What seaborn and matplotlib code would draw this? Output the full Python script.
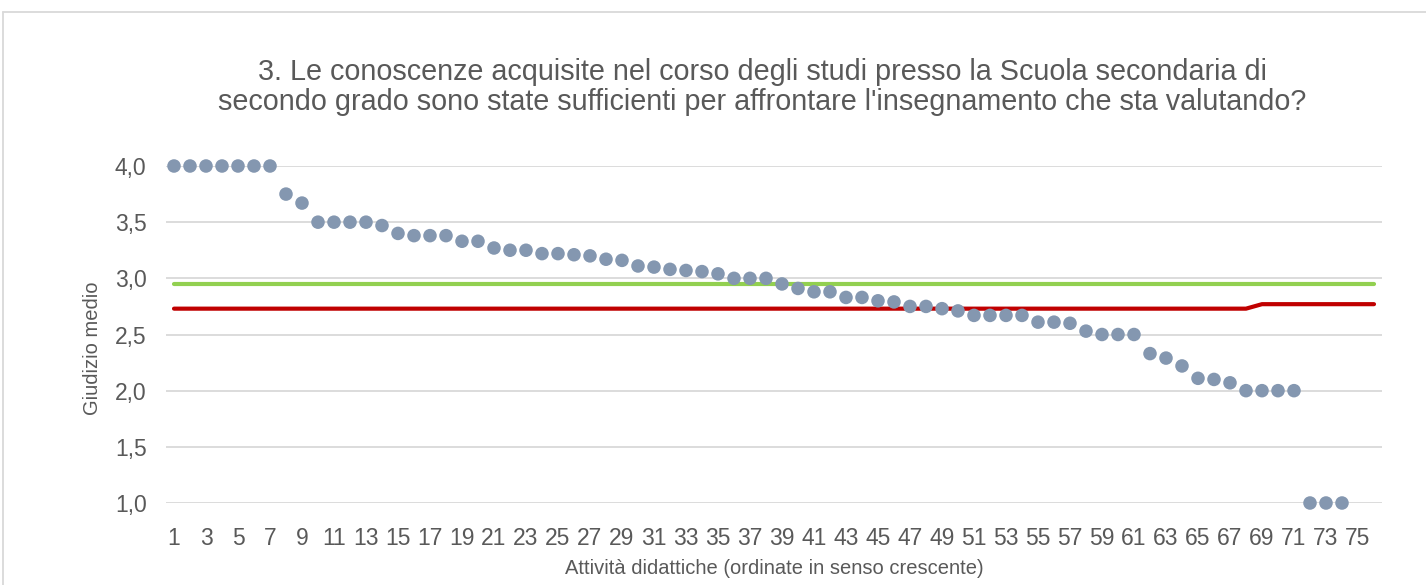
import pandas as pd
import matplotlib.pyplot as plt
import seaborn as sns
from matplotlib.lines import Line2D

# values
attivita = list(range(1, 75))
giudizio = [4.00, 4.00, 4.00, 4.00, 4.00, 4.00, 4.00, 3.75, 3.67, 3.50,
            3.50, 3.50, 3.50, 3.47, 3.40, 3.38, 3.38, 3.38, 3.33, 3.33,
            3.27, 3.25, 3.25, 3.22, 3.22, 3.21, 3.20, 3.17, 3.16, 3.11,
            3.10, 3.08, 3.07, 3.06, 3.04, 3.00, 3.00, 3.00, 2.95, 2.91,
            2.88, 2.88, 2.83, 2.83, 2.80, 2.79, 2.75, 2.75, 2.73, 2.71,
            2.67, 2.67, 2.67, 2.67, 2.61, 2.61, 2.60, 2.53, 2.50, 2.50,
            2.50, 2.33, 2.29, 2.22, 2.11, 2.10, 2.07, 2.00, 2.00, 2.00,
            2.00, 1.00, 1.00, 1.00]

linea_x = list(range(1, 77))
media_verde = [2.95] * 76
media_rossa = [2.73] * 68 + [2.77] * 8

tick_labels = [str(i) for i in range(1, 77, 2)]

title = ("3. Le conoscenze acquisite nel corso degli studi presso la Scuola secondaria di\n"
         "secondo grado sono state sufficienti per affrontare l'insegnamento che sta valutando?")

colors = {
    'punti': '#8497B0',
    'verde': '#92D050',
    'rosso': '#C00000',
    'testo': '#595959',
    'griglia': '#D9D9D9',
}

df_punti = pd.DataFrame({'x': attivita, 'y': giudizio})
df_linee = pd.DataFrame({'x': linea_x, 'verde': media_verde, 'rosso': media_rossa})

sns.set_style('white')
plt.rcParams['font.family'] = ['Liberation Sans', 'DejaVu Sans']

fig = plt.figure(figsize=(14.26, 5.85), dpi=100)
ax = fig.add_axes([166 / 1426, 1 - 503 / 585, (1382 - 166) / 1426, (503 - 166) / 585])

sns.lineplot(data=df_linee, x='x', y='verde', color=colors['verde'], lw=3,
             solid_capstyle='round', ax=ax, zorder=3)
sns.lineplot(data=df_linee, x='x', y='rosso', color=colors['rosso'], lw=3,
             solid_capstyle='round', ax=ax, zorder=3)
sns.scatterplot(data=df_punti, x='x', y='y', color=colors['punti'], s=95,
                edgecolor='none', ax=ax, zorder=4, clip_on=False)

ax.set_xlim(0.5, 76.5)
ax.set_ylim(1.0, 4.0)
ax.set_yticks([1.0, 1.5, 2.0, 2.5, 3.0, 3.5, 4.0])
ax.set_yticklabels([f'{v:.1f}'.replace('.', ',') for v in ax.get_yticks()])
ax.set_xticks(range(1, 77, 2))
ax.set_xticklabels(tick_labels)
ax.tick_params(axis='both', length=0, labelsize=16.5, colors=colors['testo'])
ax.tick_params(axis='x', pad=17)
ax.tick_params(axis='y', pad=14)
ax.grid(axis='y', color=colors['griglia'], lw=1.3)
ax.grid(axis='x', visible=False)
for s in ax.spines.values():
    s.set_visible(False)

ax.set_xlabel('Attività didattiche (ordinate in senso crescente)', fontsize=14.5,
              color=colors['testo'], labelpad=7)
ax.set_ylabel('Giudizio medio', fontsize=14.5, color=colors['testo'])
ax.yaxis.set_label_coords(-0.053, 0.46)
fig.text(762 / 1426, 1 - 87 / 585, title, ha='center', va='center', fontsize=20.7,
         color=colors['testo'], linespacing=1.08)

# chart area border (cropped at right and bottom)
fig.add_artist(Line2D([3 / 1426, 1.0], [1 - 12 / 585] * 2, color=colors['griglia'], lw=1.3))
fig.add_artist(Line2D([3 / 1426] * 2, [0.0, 1 - 12 / 585], color=colors['griglia'], lw=1.3))

plt.savefig('out.png', dpi=100)
